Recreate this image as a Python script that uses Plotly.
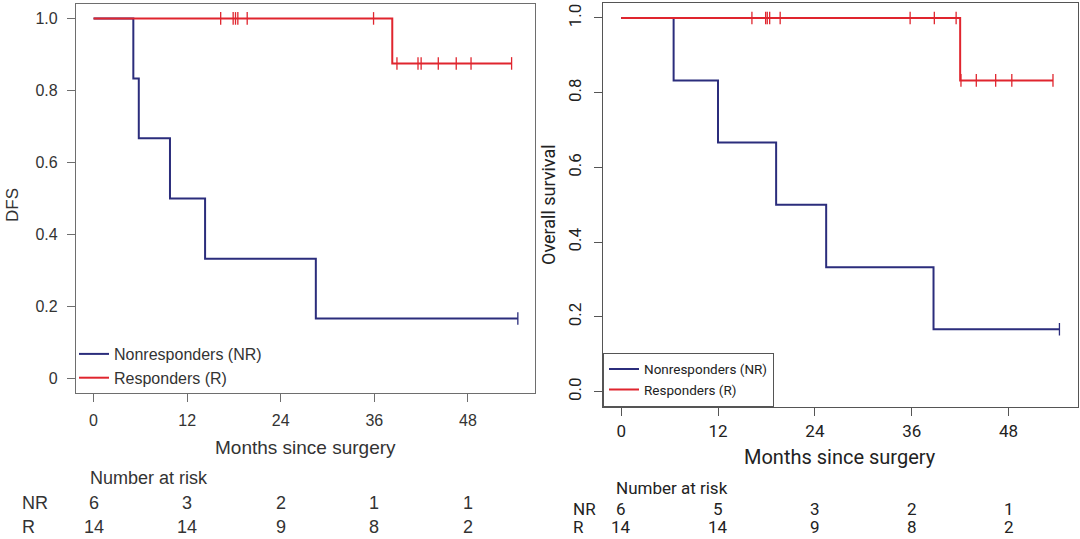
import plotly.graph_objects as go

# ---------------- data ----------------
# Left panel: disease-free survival
dfs_nr_times = [5.1, 5.8, 9.8, 14.3, 28.5]
dfs_nr_surv = [1.0, 0.833, 0.667, 0.5, 0.333, 0.167]
dfs_nr_censor = [54.4]

dfs_r_times = [38.3]
dfs_r_surv = [1.0, 0.875]
dfs_r_censor = [16.3, 17.9, 18.2, 18.5, 19.7, 35.9, 38.9, 41.6, 42.0, 44.2, 46.5, 48.4, 53.6]

# Right panel: overall survival
os_nr_times = [6.5, 12.0, 19.2, 25.4, 38.7]
os_nr_surv = [1.0, 0.833, 0.667, 0.5, 0.333, 0.167]
os_nr_censor = [54.3]

os_r_times = [42.0]
os_r_surv = [1.0, 0.833]
os_r_censor = [16.2, 17.9, 18.1, 18.4, 19.7, 35.8, 38.8, 41.5, 42.1, 44.0, 46.4, 48.4, 53.5]

# Number at risk
risk_times = [0, 12, 24, 36, 48]
dfs_risk_nr = [6, 3, 2, 1, 1]
dfs_risk_r = [14, 14, 9, 8, 2]
os_risk_nr = [6, 5, 3, 2, 1]
os_risk_r = [14, 14, 9, 8, 2]

x_ticks = [0, 12, 24, 36, 48]
y_ticks = [0, 0.2, 0.4, 0.6, 0.8, 1.0]
dfs_y_ticktext = ["0", "0.2", "0.4", "0.6", "0.8", "1.0"]
os_y_ticktext = ["0.0", "0.2", "0.4", "0.6", "0.8", "1.0"]

labels = ["Nonresponders (NR)", "Responders (R)"]
row_labels = ["NR", "R"]

# ---------------- style ----------------
NAVY = "#2b2d7c"
RED = "#e0252e"
W, H = 1080, 539
FONT_L = "Liberation Sans"
FONT_R = "Roboto"


def px_x(p):
    return p / W


def px_y(p):
    return 1 - p / H


def step_xy(times, surv, censor):
    end = max(times + censor)
    return [0] + list(times) + [end], list(surv) + [surv[-1]]


def surv_at(times, surv, t):
    s = surv[0]
    for ti, si in zip(times, surv[1:]):
        if t >= ti:
            s = si
    return s


fig = go.Figure()

panels = [
    dict(xa="x", ya="y", legend="legend",
         series=[(dfs_nr_times, dfs_nr_surv, dfs_nr_censor, NAVY),
                 (dfs_r_times, dfs_r_surv, dfs_r_censor, RED)]),
    dict(xa="x2", ya="y2", legend="legend2",
         series=[(os_nr_times, os_nr_surv, os_nr_censor, NAVY),
                 (os_r_times, os_r_surv, os_r_censor, RED)]),
]

for p in panels:
    for (times, surv, cens, col), lab in zip(p["series"], labels):
        xs, ys = step_xy(times, surv, cens)
        fig.add_trace(go.Scatter(
            x=xs, y=ys, mode="lines", line=dict(color=col, width=2, shape="hv"),
            name=lab, xaxis=p["xa"], yaxis=p["ya"], legend=p["legend"],
            hoverinfo="skip"))
    for (times, surv, cens, col), lab in zip(p["series"], labels):
        fig.add_trace(go.Scatter(
            x=cens, y=[surv_at(times, surv, c) for c in cens], mode="markers",
            marker=dict(symbol="line-ns", size=9, line=dict(color=col, width=1.3)),
            showlegend=False, xaxis=p["xa"], yaxis=p["ya"], hoverinfo="skip"))

# ---------------- axes ----------------
common_x = dict(range=[-2.25, 56.6], tickvals=x_ticks, ticks="outside", ticklen=8,
                showline=True, mirror=True, showgrid=False, zeroline=False)
common_y = dict(range=[-0.04, 1.04], tickvals=y_ticks, ticks="outside", ticklen=8,
                showline=True, mirror=True, showgrid=False, zeroline=False)

fig.update_layout(
    xaxis=dict(common_x, domain=[px_x(76), px_x(535)], anchor="y",
               linecolor="#6e6e6e", tickcolor="#6e6e6e", linewidth=1.3,
               tickfont=dict(family=FONT_L, size=16, color="#333"), ticklabelstandoff=5),
    yaxis=dict(common_y, domain=[px_y(393), px_y(4)], anchor="x",
               ticktext=dfs_y_ticktext, linecolor="#6e6e6e", tickcolor="#6e6e6e", linewidth=1.3,
               tickfont=dict(family=FONT_L, size=16, color="#333"), ticklabelstandoff=6),
    xaxis2=dict(common_x, domain=[px_x(603), px_x(1078)], anchor="y2",
                linecolor="#555", tickcolor="#555", linewidth=1.3,
                tickfont=dict(family=FONT_R, size=17, color="#222"), ticklabelstandoff=1),
    yaxis2=dict(common_y, domain=[px_y(406.7), px_y(3)], anchor="x2",
                ticktext=os_y_ticktext, tickangle=-90, linecolor="#555", tickcolor="#555", linewidth=1.3,
                tickfont=dict(family=FONT_R, size=17, color="#222"), ticklabelstandoff=6),
)

# ---------------- legends ----------------
fig.update_layout(
    legend=dict(x=px_x(74), y=px_y(337), xanchor="left", yanchor="top",
                bgcolor="rgba(0,0,0,0)", font=dict(family=FONT_L, size=16, color="#333"),
                itemwidth=30, tracegroupgap=0),
    legend2=dict(x=px_x(603), y=px_y(406.7), xanchor="left", yanchor="bottom",
                 bgcolor="white", bordercolor="#555", borderwidth=1,
                 font=dict(family=FONT_R, size=13.5, color="#222"),
                 itemwidth=30, tracegroupgap=0),
)

# ---------------- annotations ----------------
ann = []


def txt(text, x, y, font, size, col, xref="paper", xanchor="center", angle=0):
    ann.append(dict(text=text, x=x, y=y, xref=xref, yref="paper", xanchor=xanchor,
                    yanchor="middle", textangle=angle, showarrow=False,
                    font=dict(family=font, size=size, color=col)))


# axis titles
txt("Months since surgery", px_x(305.5), px_y(447), FONT_L, 19, "#333")
txt("DFS", px_x(12), px_y(205), FONT_L, 17, "#333", angle=-90)
txt("Months since surgery", px_x(840), px_y(457), FONT_R, 20, "#222")
txt("Overall survival", px_x(548), px_y(205), FONT_R, 18, "#222", angle=-90)

# number at risk tables
tables = [
    dict(xref="x", font=FONT_L, col="#333", size=18, head_x=88, head_y=478,
         lab_x=20, rows=[(dfs_risk_nr, 503), (dfs_risk_r, 527)]),
    dict(xref="x2", font=FONT_R, col="#222", size=17, head_x=614, head_y=488,
         lab_x=571, rows=[(os_risk_nr, 509), (os_risk_r, 527)]),
]
for t in tables:
    txt("Number at risk", px_x(t["head_x"]), px_y(t["head_y"]), t["font"], t["size"], t["col"],
        xanchor="left")
    for (vals, ypx), rl in zip(t["rows"], row_labels):
        txt(rl, px_x(t["lab_x"]), px_y(ypx), t["font"], t["size"], t["col"], xanchor="left")
        for tv, v in zip(risk_times, vals):
            txt(str(v), tv, px_y(ypx), t["font"], t["size"], t["col"], xref=t["xref"])

fig.update_layout(
    annotations=ann,
    width=W, height=H, margin=dict(l=0, r=0, t=0, b=0),
    paper_bgcolor="white", plot_bgcolor="white",
    showlegend=True,
)

fig.write_html("out.html", config={"displayModeBar": False},
               post_script="document.body.style.margin='0';")
